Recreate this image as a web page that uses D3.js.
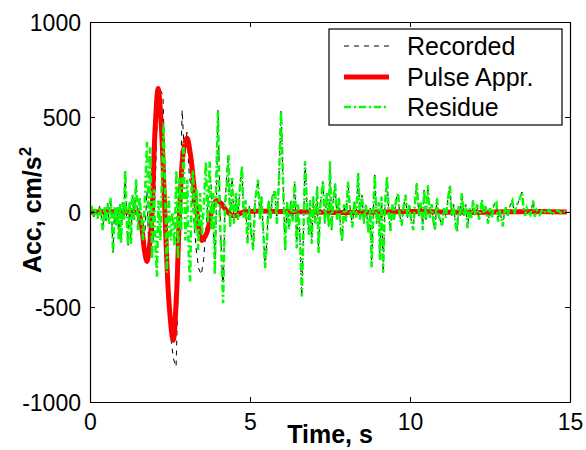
<!DOCTYPE html>
<html><head><meta charset="utf-8">
<script src="https://cdn.jsdelivr.net/npm/d3@7"></script>
<style>body{margin:0;background:#fff}svg{display:block}</style>
</head><body>
<svg id="c" width="586" height="450"></svg>
<script>
// ---- data ----
const xTicks = [0, 5, 10, 15];
const yTicks = [-1000, -500, 0, 500, 1000];
const seriesNames = ["Recorded", "Pulse Appr.", "Residue"];

const pulsePts = [[0,0],[1.2,0],[1.5,-5],[1.6,-60],[1.7,-200],[1.78,-260],[1.86,-180],[1.94,0],[2.03,420],[2.13,650],[2.23,450],[2.34,0],[2.47,-480],[2.6,-675],[2.7,-450],[2.8,0],[2.92,320],[3.03,390],[3.14,300],[3.34,0],[3.5,-150],[3.65,-110],[3.8,0],[3.95,60],[4.1,45],[4.3,0],[4.5,-20],[4.8,0],[6,3],[8,-3],[10,2],[12,-2],[14,3],[14.9,0]];

const residuePts = [[0,0],[0.06,20],[0.12,-25],[0.18,15],[0.24,-35],[0.3,30],[0.35,-20],[0.4,-95],[0.45,25],[0.5,-45],[0.55,45],[0.6,-60],[0.64,75],[0.68,-30],[0.72,-215],[0.77,30],[0.82,-70],[0.86,25],[0.9,-150],[0.94,40],[0.97,-160],[1.02,50],[1.06,-40],[1.1,220],[1.15,-60],[1.19,-175],[1.24,60],[1.28,-165],[1.33,90],[1.38,-40],[1.44,170],[1.5,-95],[1.55,80],[1.61,-40],[1.66,-150],[1.72,100],[1.78,370],[1.83,-80],[1.88,340],[1.94,-250],[2,120],[2.05,-200],[2.09,-340],[2.14,60],[2.2,-150],[2.25,200],[2.3,470],[2.36,0],[2.4,-320],[2.46,80],[2.52,-150],[2.58,0],[2.64,-180],[2.7,220],[2.75,-250],[2.8,180],[2.85,-100],[2.92,363],[2.98,-150],[3.04,170],[3.09,-270],[3.13,-365],[3.18,150],[3.22,220],[3.28,-100],[3.33,120],[3.38,-200],[3.44,100],[3.5,-120],[3.56,50],[3.62,263],[3.68,-60],[3.74,265],[3.8,-95],[3.85,100],[3.9,-330],[3.95,200],[4,530],[4.05,0],[4.1,-200],[4.16,-480],[4.22,40],[4.28,150],[4.33,300],[4.38,-80],[4.44,180],[4.5,-60],[4.56,100],[4.62,-40],[4.68,120],[4.75,240],[4.8,-30],[4.86,60],[4.92,-165],[4.98,30],[5.04,-120],[5.1,-200],[5.16,60],[5.25,170],[5.31,-40],[5.36,80],[5.42,-120],[5.47,-295],[5.53,-150],[5.58,60],[5.64,-40],[5.7,80],[5.78,115],[5.84,-60],[5.9,150],[5.97,530],[6.04,120],[6.1,-200],[6.16,50],[6.22,-90],[6.28,60],[6.33,-50],[6.4,160],[6.46,-190],[6.5,40],[6.56,-120],[6.62,-445],[6.67,-100],[6.72,265],[6.78,40],[6.84,-120],[6.88,60],[6.93,-165],[6.98,80],[7.04,-60],[7.1,135],[7.14,-215],[7.2,40],[7.28,160],[7.34,-60],[7.4,100],[7.46,-80],[7.5,265],[7.55,-95],[7.6,60],[7.66,150],[7.72,-40],[7.78,80],[7.83,-90],[7.88,-150],[7.94,40],[8,-50],[8.06,160],[8.12,30],[8.2,-80],[8.26,60],[8.32,-30],[8.38,205],[8.44,-40],[8.5,90],[8.56,-60],[8.62,40],[8.7,-110],[8.76,20],[8.8,-290],[8.86,40],[8.9,195],[8.96,-60],[9.02,50],[9.06,-250],[9.11,80],[9.16,-320],[9.22,40],[9.28,185],[9.34,-20],[9.39,-100],[9.45,40],[9.5,-40],[9.56,60],[9.63,100],[9.68,-20],[9.74,-70],[9.8,30],[9.86,90],[9.92,-30],[9.98,40],[10.04,-50],[10.1,-95],[10.16,60],[10.21,150],[10.28,-20],[10.34,50],[10.4,-95],[10.44,115],[10.5,-40],[10.56,140],[10.62,-30],[10.68,40],[10.74,-60],[10.78,-95],[10.84,70],[10.9,-20],[11,-75],[11.06,20],[11.12,-30],[11.18,60],[11.25,140],[11.3,-20],[11.36,40],[11.42,-60],[11.47,-105],[11.52,30],[11.57,-20],[11.62,100],[11.68,-20],[11.74,40],[11.8,-85],[11.86,20],[11.92,-30],[11.97,60],[12.04,-20],[12.1,40],[12.16,-40],[12.25,65],[12.3,-10],[12.36,30],[12.44,-60],[12.5,20],[12.56,-30],[12.62,40],[12.7,50],[12.75,-50],[12.8,10],[12.85,-30],[12.9,-75],[12.95,0],[13,25],[13.05,-20],[13.12,30],[13.2,60],[13.26,-10],[13.32,30],[13.38,50],[13.45,80],[13.5,105],[13.55,20],[13.6,-20],[13.65,20],[13.7,0],[13.76,-15],[13.85,60],[13.9,-25],[13.96,10],[14.05,-15],[14.15,15],[14.25,-10],[14.35,10],[14.45,-15],[14.55,10],[14.65,5],[14.75,-10],[14.85,5],[14.95,0]];

const recordedPts = [[0,0],[0.06,20],[0.12,-25],[0.18,15],[0.24,-35],[0.3,30],[0.35,-20],[0.4,-95],[0.45,25],[0.5,-45],[0.55,45],[0.6,-60],[0.64,75],[0.68,-30],[0.72,-215],[0.77,30],[0.82,-70],[0.86,25],[0.9,-150],[0.94,40],[0.97,-160],[1.02,50],[1.06,-40],[1.1,220],[1.15,-60],[1.19,-175],[1.24,60],[1.28,-165],[1.33,90],[1.38,-40],[1.44,170],[1.5,-95],[1.55,70],[1.61,-50],[1.66,-180],[1.72,-100],[1.78,110],[1.84,-220],[1.9,100],[1.97,-150],[2.03,80],[2.08,400],[2.13,560],[2.2,640],[2.28,615],[2.35,150],[2.4,-300],[2.48,-550],[2.55,-700],[2.62,-780],[2.69,-815],[2.75,-420],[2.82,100],[2.88,537],[2.95,300],[3.03,420],[3.1,200],[3.18,100],[3.25,-50],[3.32,-200],[3.4,-300],[3.48,-330],[3.55,-250],[3.62,-100],[3.7,100],[3.78,150],[3.85,-100],[3.92,-250],[4,537],[4.08,-100],[4.16,-430],[4.22,50],[4.31,300],[4.38,-80],[4.44,180],[4.5,-60],[4.56,100],[4.62,-40],[4.68,120],[4.75,240],[4.8,-30],[4.86,60],[4.92,-165],[4.98,30],[5.04,-120],[5.1,-200],[5.16,60],[5.25,170],[5.31,-40],[5.36,80],[5.42,-120],[5.47,-295],[5.53,-150],[5.58,60],[5.64,-40],[5.7,80],[5.78,115],[5.84,-60],[5.9,150],[5.97,530],[6.04,120],[6.1,-200],[6.16,50],[6.22,-90],[6.28,60],[6.33,-50],[6.4,160],[6.46,-190],[6.5,40],[6.56,-120],[6.62,-445],[6.67,-100],[6.72,265],[6.78,40],[6.84,-120],[6.88,60],[6.93,-165],[6.98,80],[7.04,-60],[7.1,135],[7.14,-215],[7.2,40],[7.28,160],[7.34,-60],[7.4,100],[7.46,-80],[7.5,265],[7.55,-95],[7.6,60],[7.66,150],[7.72,-40],[7.78,80],[7.83,-90],[7.88,-150],[7.94,40],[8,-50],[8.06,160],[8.12,30],[8.2,-80],[8.26,60],[8.32,-30],[8.38,205],[8.44,-40],[8.5,90],[8.56,-60],[8.62,40],[8.7,-110],[8.76,20],[8.8,-290],[8.86,40],[8.9,195],[8.96,-60],[9.02,50],[9.06,-250],[9.11,80],[9.16,-320],[9.22,40],[9.28,185],[9.34,-20],[9.39,-100],[9.45,40],[9.5,-40],[9.56,60],[9.63,100],[9.68,-20],[9.74,-70],[9.8,30],[9.86,90],[9.92,-30],[9.98,40],[10.04,-50],[10.1,-95],[10.16,60],[10.21,150],[10.28,-20],[10.34,50],[10.4,-95],[10.44,115],[10.5,-40],[10.56,140],[10.62,-30],[10.68,40],[10.74,-60],[10.78,-95],[10.84,70],[10.9,-20],[11,-75],[11.06,20],[11.12,-30],[11.18,60],[11.25,140],[11.3,-20],[11.36,40],[11.42,-60],[11.47,-105],[11.52,30],[11.57,-20],[11.62,100],[11.68,-20],[11.74,40],[11.8,-85],[11.86,20],[11.92,-30],[11.97,60],[12.04,-20],[12.1,40],[12.16,-40],[12.25,65],[12.3,-10],[12.36,30],[12.44,-60],[12.5,20],[12.56,-30],[12.62,40],[12.7,50],[12.75,-50],[12.8,10],[12.85,-30],[12.9,-75],[12.95,0],[13,25],[13.05,-20],[13.12,30],[13.2,60],[13.26,-10],[13.32,30],[13.38,50],[13.45,80],[13.5,105],[13.55,20],[13.6,-20],[13.65,20],[13.7,0],[13.76,-15],[13.85,60],[13.9,-25],[13.96,10],[14.05,-15],[14.15,15],[14.25,-10],[14.35,10],[14.45,-15],[14.55,10],[14.65,5],[14.75,-10],[14.85,5],[14.95,0]];

// ---- chart ----
const svg = d3.select("#c");
const L = 90, R = 570, T = 22, B = 402;
const x = d3.scaleLinear().domain([0, 15]).range([L, R]);
const y = d3.scaleLinear().domain([-1000, 1000]).range([B, T]);
const font = "'Liberation Sans', Arial, sans-serif";
const plain = d => String(d);

svg.append("defs").append("clipPath").attr("id","clip")
  .append("rect").attr("x", L).attr("y", T).attr("width", R-L).attr("height", B-T);

const g = svg.append("g").attr("clip-path","url(#clip)");
const lineLin = d3.line().x(d => x(d[0])).y(d => y(d[1]));
const lineSmooth = d3.line().x(d => x(d[0])).y(d => y(d[1])).curve(d3.curveCatmullRom);

const styles = [
  {stroke:"#000", width:1, dash:"5,5"},
  {stroke:"#ff0000", width:5, dash:null},
  {stroke:"#00ff00", width:2.5, dash:"7,3,2,3"}
];

g.append("path").attr("d", lineLin(recordedPts)).attr("fill","none")
  .attr("stroke", styles[0].stroke).attr("stroke-width", styles[0].width).attr("stroke-dasharray", styles[0].dash);
g.append("path").attr("d", lineSmooth(pulsePts)).attr("fill","none")
  .attr("stroke", styles[1].stroke).attr("stroke-width", styles[1].width).attr("stroke-linejoin","round");
g.append("path").attr("d", lineLin(residuePts)).attr("fill","none")
  .attr("stroke", styles[2].stroke).attr("stroke-width", styles[2].width).attr("stroke-dasharray", styles[2].dash);

// axes (MATLAB-style box with inward ticks)
const axB = svg.append("g").attr("transform",`translate(0,${B})`)
  .call(d3.axisBottom(x).tickValues(xTicks).tickFormat(plain).tickSizeInner(-5).tickSizeOuter(0).tickPadding(10));
const axT = svg.append("g").attr("transform",`translate(0,${T})`)
  .call(d3.axisTop(x).tickValues(xTicks).tickSizeInner(-5).tickSizeOuter(0).tickFormat(""));
const axL = svg.append("g").attr("transform",`translate(${L},0)`)
  .call(d3.axisLeft(y).tickValues(yTicks).tickFormat(plain).tickSizeInner(-5).tickSizeOuter(0).tickPadding(9));
const axR = svg.append("g").attr("transform",`translate(${R},0)`)
  .call(d3.axisRight(y).tickValues(yTicks).tickSizeInner(-5).tickSizeOuter(0).tickFormat(""));
[axB, axT, axL, axR].forEach(a => {
  a.select(".domain").attr("stroke","#000").attr("stroke-width",1.2);
  a.selectAll(".tick line").attr("stroke","#000");
  a.selectAll("text").attr("font-family", font).attr("font-size", 23).attr("fill","#000");
});
axB.selectAll("text").attr("dy", null).attr("y", 28);
axL.selectAll("text").attr("dy","0.36em");

// axis labels
svg.append("text").attr("x", 330).attr("y", 443).attr("text-anchor","middle")
  .attr("font-family", font).attr("font-weight","bold").attr("font-size", 25).text("Time, s");
const yl = svg.append("text").attr("transform","translate(41,210) rotate(-90)").attr("text-anchor","middle")
  .attr("font-family", font).attr("font-weight","bold").attr("font-size", 25);
yl.append("tspan").text("Acc, cm/s");
yl.append("tspan").attr("dy", -10).attr("font-size", 17).text("2");

// legend
const lg = svg.append("g");
lg.append("rect").attr("x", 329).attr("y", 29).attr("width", 233).attr("height", 96)
  .attr("fill","#fff").attr("stroke","#000").attr("stroke-width",1.2);
const rowsY = [46, 77, 107];
seriesNames.forEach((n, i) => {
  lg.append("line").attr("x1", 344).attr("x2", 389).attr("y1", rowsY[i]).attr("y2", rowsY[i])
    .attr("stroke", styles[i].stroke).attr("stroke-width", styles[i].width).attr("stroke-dasharray", styles[i].dash);
  lg.append("text").attr("x", 407).attr("y", rowsY[i]).attr("dy","0.36em")
    .attr("font-family", font).attr("font-size", 25).text(n);
});
</script>
</body></html>
